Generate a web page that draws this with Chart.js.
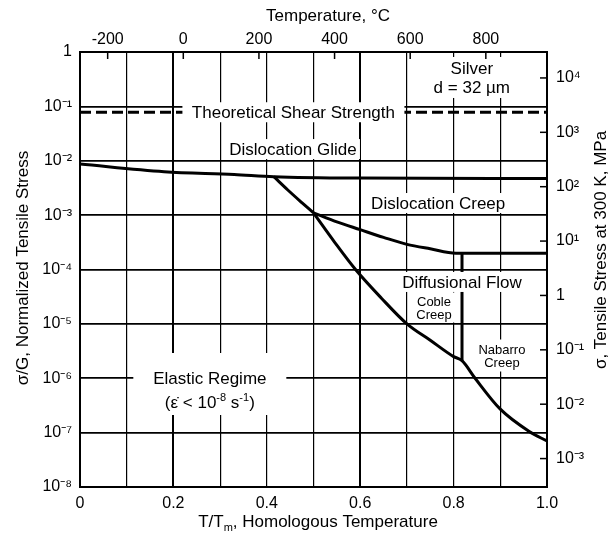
<!DOCTYPE html>
<html lang="en">
<head>
<meta charset="UTF-8">
<title>Deformation Map - Silver</title>
<script src="https://cdn.jsdelivr.net/npm/chart.js"></script>
<style>
  html, body { margin: 0; padding: 0; background: #fff; }
  canvas { display: block; }
</style>
</head>
<body>
<canvas id="mapChart" width="611" height="533"></canvas>
<script>
// T/Tm (homologous temperature) and sigma/G values
const glideT = [0, 0.18, 0.33, 0.415, 0.6, 1.0];
const glideS = [8.7e-3, 6.3e-3, 5.6e-3, 5.1e-3, 4.8e-3, 4.7e-3];

const creepTopT = [0.415, 0.445, 0.475, 0.5];
const creepTopS = [5.1e-3, 2.9e-3, 1.7e-3, 1.1e-3];

const diffTopT = [0.5, 0.55, 0.6, 0.65, 0.7, 0.75, 0.805, 1.0];
const diffTopS = [1.1e-3, 7.5e-4, 5.4e-4, 3.9e-4, 2.9e-4, 2.4e-4, 2.0e-4, 2.0e-4];

const elasticT = [0.5, 0.545, 0.59, 0.645, 0.7, 0.75, 0.8, 0.818, 0.846, 0.9, 0.962, 1.0];
const elasticS = [1.1e-3, 3.2e-4, 1.0e-4, 3.0e-5, 1.0e-5, 5.0e-6, 2.5e-6, 2.1e-6, 1.0e-6, 2.7e-7, 1.05e-7, 7.0e-8];

const cobleT = [0.818, 0.818];
const cobleS = [2.0e-4, 2.1e-6];

const shearT = [0, 1];
const shearS = [0.078, 0.078];

// axes
const homTicks = [0, 0.1, 0.2, 0.3, 0.4, 0.5, 0.6, 0.7, 0.8, 0.9, 1.0];
const homLabels = ['0', '', '0.2', '', '0.4', '', '0.6', '', '0.8', '', '1.0'];
const tempTicks = [-200, 0, 200, 400, 600, 800];
const ratioTicks = [1e-8, 1e-7, 1e-6, 1e-5, 1e-4, 1e-3, 1e-2, 1e-1, 1];
const mpaTicks = [1e-3, 1e-2, 1e-1, 1, 1e1, 1e2, 1e3, 1e4];
const meltK = 1234.9;      // silver
const shearMPa = 3.0e4;    // G used for the right axis

const fontFam = "'Liberation Sans', Arial, sans-serif";

// region labels, anchored in (T/Tm, sigma/G); box = white patch [w, h, dy]
const notes = [
  { t: 0.457, s: 0.078, size: 17, lh: 19, box: [222, 20, 0], lines: [[{ t: 'Theoretical Shear Strength' }]] },
  { t: 0.456, s: 0.0164, size: 17, lh: 19, box: [134, 20, 0], lines: [[{ t: 'Dislocation Glide' }]] },
  { t: 0.767, s: 1.67e-3, size: 17, lh: 19, box: [142, 20, 0], lines: [[{ t: 'Dislocation Creep' }]] },
  { t: 0.818, s: 5.9e-5, size: 17, lh: 19, box: [128, 20, 0], lines: [[{ t: 'Diffusional Flow' }]] },
  { t: 0.758, s: 2.0e-5, size: 13, lh: 13, box: [42, 30, 0], lines: [[{ t: 'Coble' }], [{ t: 'Creep' }]] },
  { t: 0.9035, s: 2.62e-6, size: 13, lh: 13, box: [58, 32, 0], lines: [[{ t: 'Nabarro' }], [{ t: 'Creep' }]] },
  { t: 0.278, s: 6.08e-7, size: 17, lh: 24, box: [153, 62, -6], lines: [
      [{ t: 'Elastic Regime' }],
      [{ t: '(\u03b5\u0307 < 10' }, { t: '-8', sup: true }, { t: ' s' }, { t: '-1', sup: true }, { t: ')' }]
  ] },
  { t: 0.839, s: 0.34, size: 17, lh: 19, box: [88, 41, 0], lines: [[{ t: 'Silver' }], [{ t: 'd = 32 \u00b5m' }]] }
];

const supMap = { '-': '\u207b', '0': '\u2070', '1': '\u00b9', '2': '\u00b2', '3': '\u00b3', '4': '\u2074',
  '5': '\u2075', '6': '\u2076', '7': '\u2077', '8': '\u2078', '9': '\u2079' };
function decadeLabel(v) {
  const e = Math.round(Math.log10(v));
  if (e === 0) return '1';
  return '10' + String(e).split('').map(c => supMap[c]).join('');
}

function pts(xs, ys) {
  return xs.map((x, i) => ({ x: x, y: ys[i] }));
}

function curve(xs, ys, extra) {
  return Object.assign({
    data: pts(xs, ys),
    showLine: true,
    borderColor: '#000',
    borderWidth: 3,
    pointRadius: 0,
    fill: false,
    cubicInterpolationMode: 'monotone'
  }, extra || {});
}

// draws one line of text made of plain / superscript / subscript pieces, centred on cx
function drawRich(ctx, segs, cx, cy, size) {
  const small = Math.round(size * 0.65);
  let total = 0;
  segs.forEach(sg => {
    ctx.font = (sg.sup || sg.sub ? small : size) + 'px ' + fontFam;
    sg.w = ctx.measureText(sg.t).width;
    total += sg.w;
  });
  let px = cx - total / 2;
  const base = cy + size * 0.36;
  ctx.textAlign = 'left';
  ctx.textBaseline = 'alphabetic';
  segs.forEach(sg => {
    ctx.font = (sg.sup || sg.sub ? small : size) + 'px ' + fontFam;
    let off = 0;
    if (sg.sup) off = -size * 0.42;
    if (sg.sub) off = size * 0.25;
    ctx.fillText(sg.t, px, base + off);
    px += sg.w;
  });
}

const mapDecor = {
  id: 'mapDecor',
  beforeDraw(chart) {
    const ctx = chart.ctx;
    ctx.save();
    ctx.fillStyle = '#fff';
    ctx.fillRect(0, 0, chart.width, chart.height);
    ctx.restore();
  },
  afterDatasetsDraw(chart) {
    const ctx = chart.ctx;
    const { x, y, x2, y2 } = chart.scales;
    ctx.save();

    notes.forEach(n => {
      const cx = x.getPixelForValue(n.t);
      const cy = y.getPixelForValue(n.s);
      const [bw, bh, bdy] = n.box;
      ctx.fillStyle = '#fff';
      ctx.fillRect(cx - bw / 2, cy - bh / 2 + bdy, bw, bh);
      ctx.fillStyle = '#000';
      const first = cy - (n.lines.length - 1) * n.lh / 2;
      n.lines.forEach((ln, i) => drawRich(ctx, ln, cx, first + i * n.lh, n.size));
    });

    // inward tick marks on the temperature and MPa axes
    ctx.strokeStyle = '#000';
    ctx.lineWidth = 1.5;
    x2.ticks.forEach(tk => {
      const px = x2.getPixelForValue(tk.value);
      ctx.beginPath();
      ctx.moveTo(px, x2.bottom);
      ctx.lineTo(px, x2.bottom + 7);
      ctx.stroke();
    });
    y2.ticks.forEach(tk => {
      const py = y2.getPixelForValue(tk.value);
      ctx.beginPath();
      ctx.moveTo(y2.left, py);
      ctx.lineTo(y2.left - 7, py);
      ctx.stroke();
    });

    // axis titles
    ctx.fillStyle = '#000';
    drawRich(ctx, [{ t: 'Temperature, \u00b0C' }], 328, 15, 17);
    drawRich(ctx, [{ t: 'T/T' }, { t: 'm', sub: true }, { t: ', Homologous Temperature' }], 318, 521, 17);

    ctx.save();
    ctx.translate(22, 268);
    ctx.rotate(-Math.PI / 2);
    drawRich(ctx, [{ t: '\u03c3/G, Normalized Tensile Stress' }], 0, 0, 17);
    ctx.restore();

    ctx.save();
    ctx.translate(600, 250);
    ctx.rotate(-Math.PI / 2);
    drawRich(ctx, [{ t: '\u03c3, Tensile Stress at 300 K, MPa' }], 0, 0, 17);
    ctx.restore();

    ctx.restore();
  }
};

const tickFont = { family: fontFam, size: 16 };

new Chart(document.getElementById('mapChart'), {
  type: 'scatter',
  data: {
    datasets: [
      curve(glideT, glideS),
      curve(creepTopT, creepTopS),
      curve(diffTopT, diffTopS),
      curve(elasticT, elasticS),
      curve(cobleT, cobleS, { cubicInterpolationMode: 'default', tension: 0 }),
      curve(shearT, shearS, { cubicInterpolationMode: 'default', tension: 0, borderDash: [11, 5] })
    ]
  },
  options: {
    responsive: false,
    animation: false,
    layout: { padding: 0, autoPadding: false },
    plugins: { legend: { display: false }, tooltip: { enabled: false } },
    scales: {
      x: {
        type: 'linear', position: 'bottom', min: 0, max: 1, bounds: 'data',
        afterBuildTicks: s => { s.ticks = homTicks.map(v => ({ value: v })); },
        afterFit: s => { s.height = 46; },
        grid: { color: '#000', lineWidth: c => (c.index === 2 || c.index === 6 ? 2 : 1.2), drawTicks: false },
        border: { color: '#000', width: 2 },
        ticks: { color: '#000', font: tickFont, padding: 7, maxRotation: 0, autoSkip: false,
                 callback: (v, i) => homLabels[i] }
      },
      x2: {
        type: 'linear', position: 'top', min: -273.15, max: meltK - 273.15, bounds: 'data',
        afterBuildTicks: s => { s.ticks = tempTicks.map(v => ({ value: v })); },
        afterFit: s => { s.height = 52; },
        grid: { drawOnChartArea: false, drawTicks: false },
        border: { color: '#000', width: 2 },
        ticks: { color: '#000', font: tickFont, padding: 3, maxRotation: 0, autoSkip: false,
                 callback: v => String(v) }
      },
      y: {
        type: 'logarithmic', position: 'left', min: 1e-8, max: 1, bounds: 'data',
        afterBuildTicks: s => { s.ticks = ratioTicks.map(v => ({ value: v })); },
        afterFit: s => { s.width = 80; },
        grid: { color: '#000', lineWidth: 1.7, drawTicks: false },
        border: { color: '#000', width: 2 },
        ticks: { color: '#000', font: tickFont, padding: 8, autoSkip: false, callback: v => decadeLabel(v) }
      },
      y2: {
        type: 'logarithmic', position: 'right', min: 1e-8 * shearMPa, max: shearMPa, bounds: 'data',
        afterBuildTicks: s => { s.ticks = mpaTicks.map(v => ({ value: v })); },
        afterFit: s => { s.width = 64; },
        grid: { drawOnChartArea: false, drawTicks: false },
        border: { color: '#000', width: 2 },
        ticks: { color: '#000', font: tickFont, padding: 9, autoSkip: false, callback: v => decadeLabel(v) }
      }
    }
  },
  plugins: [mapDecor]
});
</script>
</body>
</html>
